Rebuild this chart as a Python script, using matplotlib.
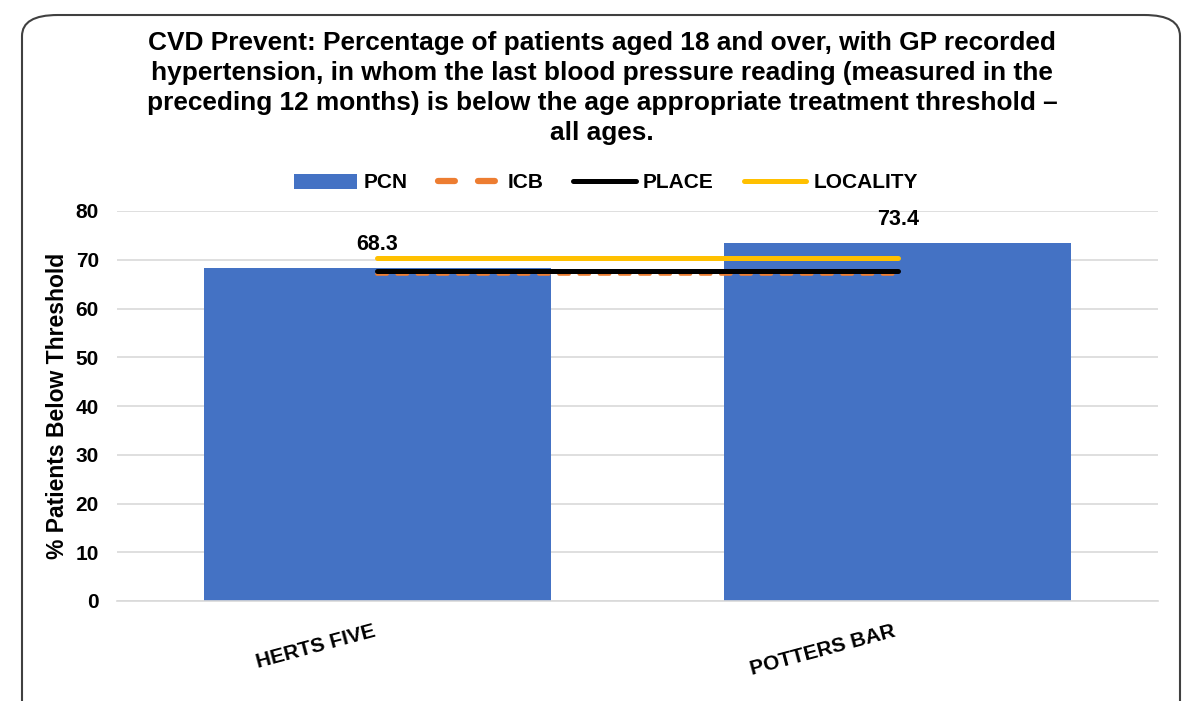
import matplotlib.pyplot as plt
from matplotlib.patches import FancyBboxPatch
from matplotlib.lines import Line2D
from matplotlib.patches import Patch

plt.rcParams['font.family'] = ['Liberation Sans', 'DejaVu Sans']

# data
pcns = ['HERTS FIVE', 'POTTERS BAR']
pcn_values = [68.3, 73.4]
icb_value = 67.1
place_value = 67.6
locality_value = 70.3

title = ('CVD Prevent: Percentage of patients aged 18 and over, with GP recorded\n'
         'hypertension, in whom the last blood pressure reading (measured in the\n'
         'preceding 12 months) is below the age appropriate treatment threshold \u2013\n'
         'all ages.')

fig = plt.figure(figsize=(11.88, 7.01), dpi=100)

# rounded frame around the chart
frame = FancyBboxPatch((22 / 1188, -0.05), 1158 / 1188, 0.04 + 693 / 701,
                       boxstyle='round,pad=0,rounding_size=0.03',
                       transform=fig.transFigure, facecolor='white',
                       edgecolor='#404040', linewidth=1.5, zorder=0)
fig.patches.append(frame)

ax = fig.add_axes([117 / 1188, 1 - 601 / 701, (1158 - 117) / 1188, (601 - 211) / 701])
ax.set_facecolor('none')
ax.set_zorder(2)

x = list(range(len(pcns)))
bars = ax.bar(x, pcn_values, width=0.667, color='#4472C4', zorder=2)
for xi, v in zip(x, pcn_values):
    ax.text(xi, v + 4.8, f'{v:.1f}', ha='center', va='center',
            fontsize=15.5, fontweight='bold')

ax.plot(x, [icb_value] * 2, color='#ED7D31', linestyle=(0, (2.8, 2.8)),
        linewidth=2.6, dash_capstyle='round', zorder=3)
ax.plot(x, [place_value] * 2, color='black', linewidth=3.6,
        solid_capstyle='round', zorder=4)
ax.plot(x, [locality_value] * 2, color='#FFC000', linewidth=3.6,
        solid_capstyle='round', zorder=4)

ax.set_xlim(-0.5, 1.5)
ax.set_ylim(0, 80)
ax.set_yticks(range(0, 81, 10))
ax.yaxis.grid(True, color='#D9D9D9', linewidth=1.2, zorder=0)
ax.set_axisbelow(True)
for s in ['top', 'right', 'left']:
    ax.spines[s].set_visible(False)
ax.spines['bottom'].set_color('#D9D9D9')
ax.spines['bottom'].set_linewidth(1.2)
ax.tick_params(length=0)
ax.tick_params(axis='y', pad=13)
ax.tick_params(axis='x', pad=15)
ax.set_xticks(x)
ax.set_xticklabels(pcns, rotation=15, ha='right', fontsize=15, fontweight='bold')
for lbl in ax.get_yticklabels():
    lbl.set_fontsize(15)
    lbl.set_fontweight('bold')
ax.set_ylabel('% Patients Below Threshold', fontsize=16.5, fontweight='bold', labelpad=5)

handles = [
    Patch(facecolor='#4472C4'),
    Line2D([], [], color='#ED7D31', linestyle=(0, (2.7, 3.7)), linewidth=4.5,
           dash_capstyle='round'),
    Line2D([], [], color='black', linewidth=3.6, solid_capstyle='round'),
    Line2D([], [], color='#FFC000', linewidth=3.6, solid_capstyle='round'),
]
fig.legend(handles, ['PCN', 'ICB', 'PLACE', 'LOCALITY'], loc='center',
           bbox_to_anchor=(606 / 1188, 1 - 183 / 701), ncol=4, frameon=False,
           prop={'size': 15, 'weight': 'bold'}, handlelength=3.0,
           handleheight=0.7, columnspacing=1.45, handletextpad=0.33)

fig.text(602 / 1188, 1 - 31 / 701, title, ha='center', va='top',
         fontsize=18.9, fontweight='bold', linespacing=1.31)

fig.savefig('out.png', dpi=100)
